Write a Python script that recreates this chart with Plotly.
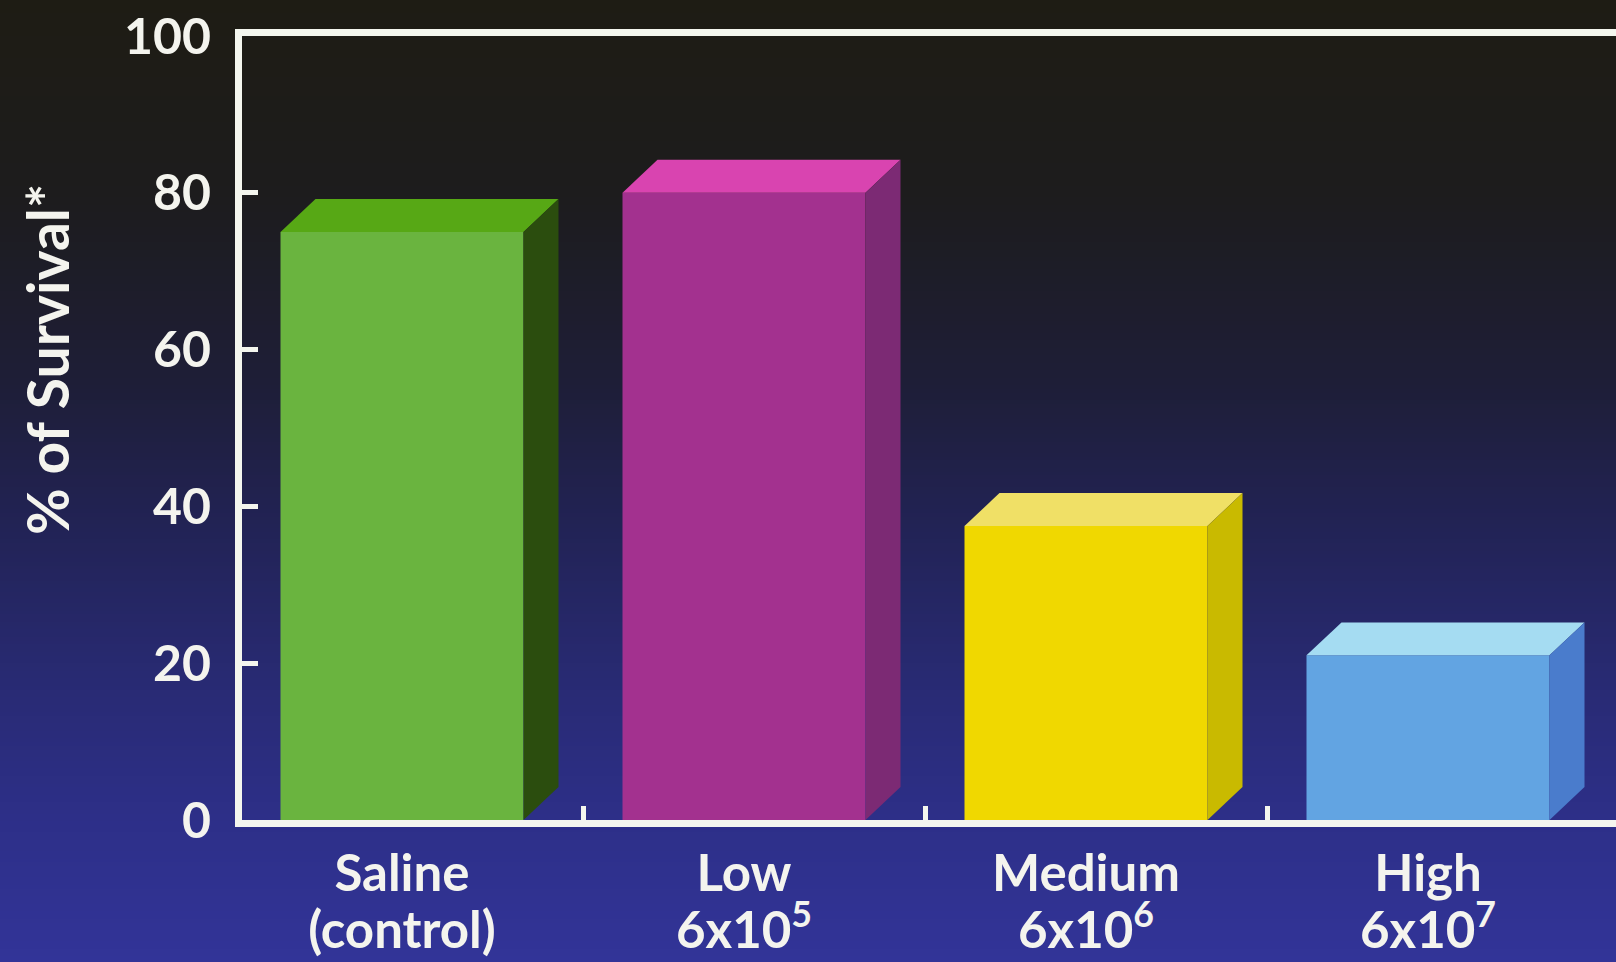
import base64
import struct
import zlib

import plotly.graph_objects as go

# ---------------- data ----------------
cat_line1 = ["Saline", "Low", "Medium", "High"]
cat_line2 = ["(control)", "6x10<sup>5</sup>", "6x10<sup>6</sup>", "6x10<sup>7</sup>"]
survival = [75, 80, 37.5, 21]
y_ticks = [0, 20, 40, 60, 80, 100]

# ---------------- style ----------------
front_colors = ["#6ab43f", "#a3318f", "#f0d800", "#62a4e2"]
top_colors = ["#57a815", "#d944b0", "#f0e066", "#a5dcf2"]
side_colors = ["#2b4d0e", "#7c2a74", "#c9ba00", "#4a7ccc"]
SPACING = 342      # px per category
BAR_W = 243 / SPACING   # front face width (category units)
DX = 35 / SPACING       # depth in x (category units)
DY = 4.2                # depth in y (value units)
TXT = "#f4f4ee"
LINE = "#f4f6ee"
FONT = "Lato"

W, H = 1616, 962
ML, MR, MT, MB = 242, 0, 36, 142
PW, PH = W - ML - MR, H - MT - MB


# ---------------- background gradient (decoration) ----------------
def hex2rgb(h):
    h = h.lstrip("#")
    return tuple(int(h[i:i + 2], 16) for i in (0, 2, 4))


stops = [(0.0, "#1e1c14"), (0.2, "#1d1c1d"), (0.4, "#1e1e38"),
         (0.55, "#222356"), (0.7, "#282a72"), (0.85, "#2d2f88"), (1.0, "#323498")]


def grad_color(t):
    for (p0, c0), (p1, c1) in zip(stops[:-1], stops[1:]):
        if p0 <= t <= p1:
            f = (t - p0) / (p1 - p0)
            a, b = hex2rgb(c0), hex2rgb(c1)
            return tuple(int(round(a[k] + (b[k] - a[k]) * f)) for k in range(3))
    return hex2rgb(stops[-1][1])


def make_png(w, h):
    raw = b""
    for r in range(h):
        c = grad_color(r / (h - 1))
        raw += b"\x00" + bytes(c) * w

    def chunk(t, d):
        return struct.pack(">I", len(d)) + t + d + struct.pack(">I", zlib.crc32(t + d) & 0xffffffff)

    png = b"\x89PNG\r\n\x1a\n"
    png += chunk(b"IHDR", struct.pack(">IIBBBBB", w, h, 8, 2, 0, 0, 0))
    png += chunk(b"IDAT", zlib.compress(raw, 9))
    png += chunk(b"IEND", b"")
    return "data:image/png;base64," + base64.b64encode(png).decode()


bg_src = make_png(4, 256)

# ---------------- figure ----------------
fig = go.Figure()
xs = list(range(len(cat_line1)))

# front faces
fig.add_trace(go.Bar(
    x=xs, y=survival, width=BAR_W, base=0,
    marker=dict(color=front_colors, line=dict(width=0)),
    hoverinfo="skip", showlegend=False,
))

# top and side faces, derived from the values
for i, v in enumerate(survival):
    x0, x1 = i - BAR_W / 2, i + BAR_W / 2
    fig.add_trace(go.Scatter(
        x=[x0, x1, x1 + DX, x0 + DX, x0],
        y=[v, v, v + DY, v + DY, v],
        fill="toself", fillcolor=top_colors[i], mode="lines",
        line=dict(width=0, color=top_colors[i]),
        hoverinfo="skip", showlegend=False,
    ))
    fig.add_trace(go.Scatter(
        x=[x1, x1 + DX, x1 + DX, x1, x1],
        y=[0, DY, v + DY, v, 0],
        fill="toself", fillcolor=side_colors[i], mode="lines",
        line=dict(width=0, color=side_colors[i]),
        hoverinfo="skip", showlegend=False,
    ))

# invisible carrier so the second-line category axis gets drawn
fig.add_trace(go.Scatter(
    x=xs, y=survival, xaxis="x2", yaxis="y", mode="markers",
    marker=dict(opacity=0, size=1), hoverinfo="skip", showlegend=False,
))

x_left = -160 / SPACING
x_right = (W - 402) / SPACING
label_font = dict(family=FONT, size=51, color=TXT, weight="bold")

fig.update_layout(
    width=W, height=H,
    margin=dict(l=ML, r=MR, t=MT, b=MB, pad=0, autoexpand=False),
    paper_bgcolor="#24244f",
    plot_bgcolor="#1c1b11",
    showlegend=False,
    images=[dict(
        source=bg_src, xref="paper", yref="paper",
        x=-ML / PW, y=1 + MT / PH, sizex=W / PW, sizey=H / PH,
        xanchor="left", yanchor="top", sizing="stretch", layer="below",
    )],
    xaxis=dict(
        range=[x_left, x_right], automargin=False,
        tickmode="array", tickvals=xs, ticktext=cat_line1,
        ticks="inside", ticklen=0, tickwidth=0,
        tickfont=label_font,
        ticklabelstandoff=3,
        showgrid=False, zeroline=False,
        showline=True, linecolor=LINE, linewidth=7, mirror=True,
        minor=dict(tickmode="array", tickvals=[0.53, 1.53, 2.53],
                   ticks="inside", ticklen=14, tickwidth=5, tickcolor=LINE),
        fixedrange=True,
    ),
    xaxis2=dict(
        overlaying="x", anchor="y", side="bottom", automargin=False,
        range=[x_left, x_right],
        tickmode="array", tickvals=xs, ticktext=cat_line2,
        ticks="", tickfont=label_font,
        ticklabelstandoff=76,
        showgrid=False, zeroline=False, showline=False,
        fixedrange=True,
    ),
    yaxis=dict(
        range=[0, 100], automargin=False,
        tickmode="array", tickvals=y_ticks,
        ticks="inside", ticklen=16, tickwidth=5, tickcolor=LINE,
        tickfont=dict(family=FONT, size=50, color=TXT, weight="bold"),
        ticklabelstandoff=14,
        showgrid=False, zeroline=False,
        showline=True, linecolor=LINE, linewidth=7, mirror=True,
        fixedrange=True,
    ),
    annotations=[dict(
        text="% of Survival*", textangle=-90,
        xref="paper", yref="paper",
        x=(47 - ML) / PW, y=1 - (360 - MT) / PH,
        xanchor="center", yanchor="middle", showarrow=False,
        font=dict(family=FONT, size=57, color=TXT, weight="bold"),
    )],
)

fig.write_html("out.html")
